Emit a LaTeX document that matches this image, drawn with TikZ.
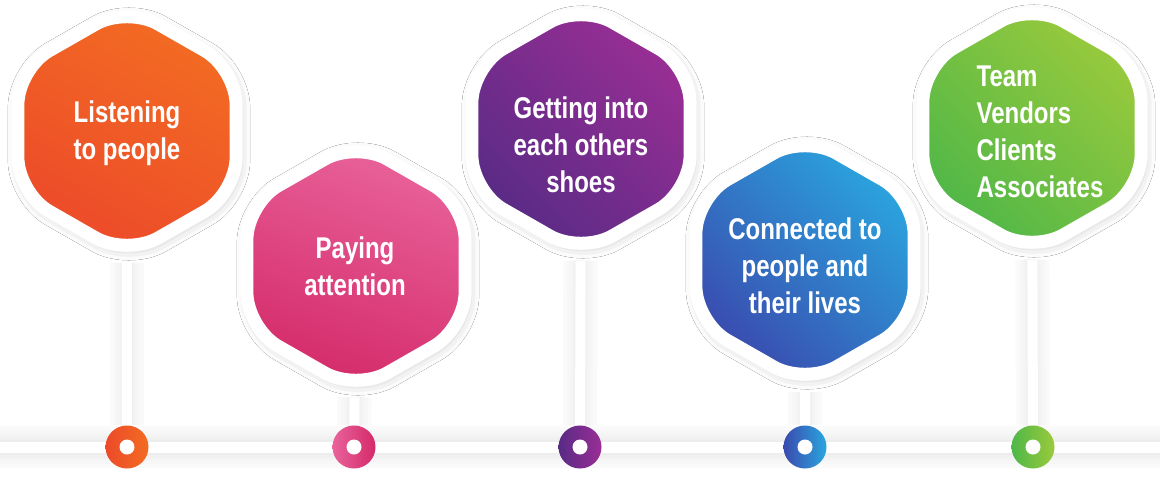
\documentclass[tikz,border=0pt]{standalone}
\usepackage{fontspec}
\newfontfamily\hexfont{Liberation Sans}[FakeStretch=0.8]
\usetikzlibrary{shapes.geometric,shadows.blur,backgrounds}

\definecolor{orangeA}{HTML}{F36C22}
\definecolor{orangeB}{HTML}{EC4A2A}
\definecolor{pinkA}{HTML}{E9639B}
\definecolor{pinkB}{HTML}{D42A69}
\definecolor{purpleA}{HTML}{9A2E95}
\definecolor{purpleB}{HTML}{582B85}
\definecolor{blueA}{HTML}{2AA6DF}
\definecolor{blueB}{HTML}{3A4AAE}
\definecolor{greenA}{HTML}{9ACA3C}
\definecolor{greenB}{HTML}{4FB748}

\begin{document}
\begin{tikzpicture}[x=1pt, y=1pt,
  hexa/.style={regular polygon, regular polygon sides=6, shape border rotate=30,
               minimum size=252pt, inner sep=0pt, yscale=0.99,
               rounded corners=36pt, draw=white, line width=13pt,
               blur shadow={shadow xshift=2pt, shadow yshift=-3pt,
                            shadow blur radius=12pt, shadow opacity=28}},
  hextext/.style={text=white, align=center, inner sep=0pt,
                  font=\hexfont\bfseries\fontsize{30}{37}\selectfont},
  ring/.style={circle, minimum size=43pt, inner sep=0pt},
  stem/.style={draw=white, line width=#1}
]
  \useasboundingbox (0,0) rectangle (1171,-477);

  % hexagons
  \node[hexa, top color=orangeA, bottom color=orangeB, shading angle=-30] (h1) at (127,-131) {};
  \node[hexa, top color=pinkA, bottom color=pinkB, shading angle=-20]     (h2) at (356,-266) {};
  \node[hexa, top color=purpleA, bottom color=purpleB, shading angle=-45] (h3) at (581,-129) {};
  \node[hexa, top color=blueA, bottom color=blueB, shading angle=-45]     (h4) at (805,-260) {};
  \node[hexa, top color=greenA, bottom color=greenB, shading angle=-45]   (h5) at (1032,-128) {};

  \node[hextext] (t1) at (127,-133)  {Listening\\to people};
  \node[hextext] (t2) at (355,-266)  {Paying\\attention};
  \node[hextext] (t3) at (581,-145)  {Getting into\\each others\\shoes};
  \node[hextext] (t4) at (805,-266)  {Connected to\\people and\\their lives};
  \node[hextext, align=left] (t5) at (1040,-132) {Team\\Vendors\\Clients\\Associates};

  % rings on the line
  \node[ring, left color=orangeB, right color=orangeA]  (r1) at (127,-447) {};
  \node[ring, left color=pinkA, right color=pinkB]      (r2) at (354,-447) {};
  \node[ring, left color=purpleB, right color=purpleA]  (r3) at (580,-447) {};
  \node[ring, left color=blueB, right color=blueA]      (r4) at (805,-447) {};
  \node[ring, left color=greenB, right color=greenA]    (r5) at (1033,-447) {};
  \foreach \i in {1,...,5}
    \fill[white] (r\i) circle (7.5pt);

  \coordinate (b0) at (0,-447);
  \coordinate (b1) at (1160,-447);

  \begin{scope}[on background layer]
    \fill[white] (0,0) rectangle (1171,-477);
    \foreach \w/\g in {42/2, 34/3, 28/4, 23/5, 19/6, 15/7}{
      \draw[black!\g, line width=\w pt] (b0) -- (b1);
      \foreach \i in {1,...,5}
        \draw[black!\g, line width=\w pt-8pt] (h\i) -- (r\i);
    }
    \foreach \i in {1,...,5}
      \draw[stem=10pt] (h\i) -- (r\i);
    \draw[stem=11pt] (b0) -- (b1);
  \end{scope}
\end{tikzpicture}
\end{document}
